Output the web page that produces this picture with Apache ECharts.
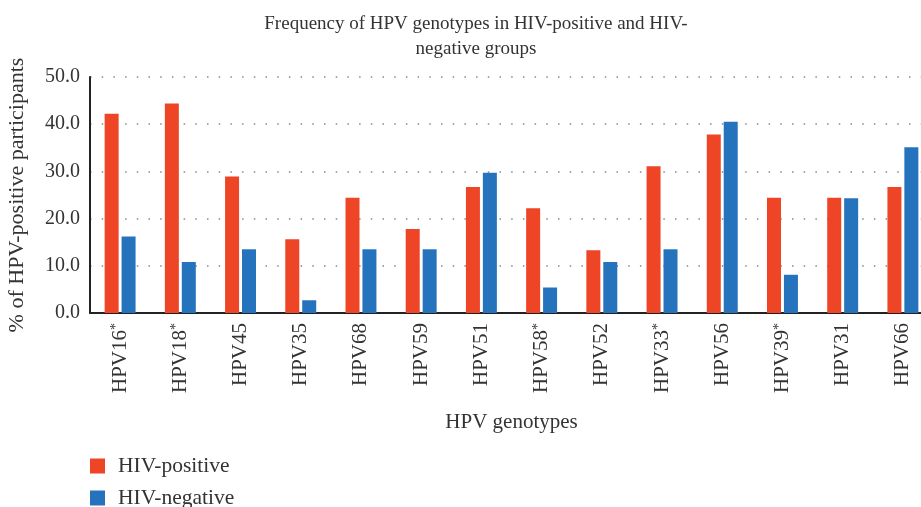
<!DOCTYPE html>
<html>
<head>
<meta charset="utf-8">
<script src="https://cdn.jsdelivr.net/npm/echarts@6/dist/echarts.min.js"></script>
<style>
html,body{margin:0;padding:0;background:#fff;}
#chart{width:921px;height:507px;}
</style>
</head>
<body>
<div id="chart"></div>
<script>
const categories = ['HPV16*','HPV18*','HPV45','HPV35','HPV68','HPV59','HPV51','HPV58*','HPV52','HPV33*','HPV56','HPV39*','HPV31','HPV66'];
const hivPositive = [42.2,44.4,28.9,15.6,24.4,17.8,26.7,22.2,13.3,31.1,37.8,24.4,24.4,26.7];
const hivNegative = [16.2,10.8,13.5,2.7,13.5,13.5,29.7,5.4,10.8,13.5,40.5,8.1,24.3,35.1];
const yTicks = [0,10,20,30,40,50];

const FONT = "'Liberation Serif', 'DejaVu Serif', serif";
const TXT = '#333333';
const legendText = {fontFamily:FONT,fontSize:21.5,color:TXT,lineHeight:22,padding:[0,0,0,8]};
const chart = echarts.init(document.getElementById('chart'));
chart.setOption({
  animation:false,
  title:{
    text:'Frequency of HPV genotypes in HIV-positive and HIV-\nnegative groups',
    left:471, top:7, textAlign:'center',
    textStyle:{fontFamily:FONT,fontSize:19,fontWeight:'normal',color:TXT,lineHeight:25}
  },
  legend:[
    {orient:'vertical', left:90, top:455, padding:0, itemWidth:15, itemHeight:15, icon:'rect',
     textStyle:legendText, data:['HIV-positive']},
    {orient:'vertical', left:90, top:487, padding:0, itemWidth:15, itemHeight:15, icon:'rect',
     textStyle:legendText, data:['HIV-negative']}
  ],
  grid:{left:90,width:843,top:77,bottom:194,containLabel:false,outerBoundsMode:'none'},
  xAxis:{
    type:'category', data:categories,
    name:'HPV genotypes', nameLocation:'middle', nameGap:99,
    nameTextStyle:{fontFamily:FONT,fontSize:21,color:TXT},
    axisLine:{lineStyle:{color:'#222',width:2}},
    axisTick:{show:false},
    axisLabel:{
      rotate:90, margin:10, interval:0, color:TXT, fontFamily:FONT, fontSize:21,
      formatter:function(v){
        if(v.endsWith('*')) return '{a|'+v.slice(0,-1)+'}{s|*}';
        return '{a|'+v+'}';
      },
      rich:{
        a:{fontFamily:FONT,fontSize:21,color:TXT},
        s:{fontFamily:FONT,fontSize:14,color:TXT,verticalAlign:'top'}
      }
    }
  },
  yAxis:{
    type:'value', min:yTicks[0], max:yTicks[yTicks.length-1], interval:10,
    name:'% of HPV-positive participants', nameLocation:'middle', nameGap:62,
    nameTextStyle:{fontFamily:FONT,fontSize:22,color:TXT},
    axisLine:{show:true,lineStyle:{color:'#222',width:2}},
    axisTick:{show:false},
    axisLabel:{margin:10,color:TXT,fontFamily:FONT,fontSize:20,formatter:function(v){return v.toFixed(1);}},
    splitLine:{show:true,lineStyle:{color:'#888',width:1.5,type:[1.5,10.2]}}
  },
  series:[
    {name:'HIV-positive',type:'bar',data:hivPositive,barWidth:14,barGap:'21%',barCategoryGap:'48%',itemStyle:{color:'#EE4527'}},
    {name:'HIV-negative',type:'bar',data:hivNegative,barWidth:14,itemStyle:{color:'#2473BC'}}
  ]
});
</script>
</body>
</html>
